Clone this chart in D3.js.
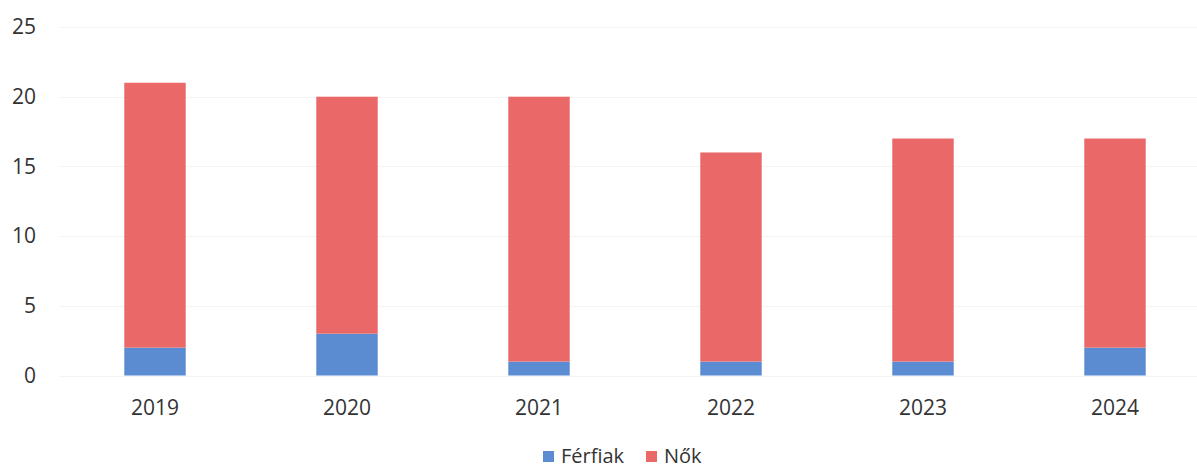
<!DOCTYPE html>
<html><head><meta charset="utf-8">
<script src="https://cdn.jsdelivr.net/npm/d3@7"></script>
<style>body{margin:0;background:#fff}svg{display:block}text{font-family:"Open Sans",sans-serif;fill:#333}</style>
</head><body>
<script>
const categories = ["2019","2020","2021","2022","2023","2024"];
const ferfiak = [2,3,1,1,1,2];
const nok = [19,17,19,15,16,15];
const seriesNames = ["Férfiak","Nők"];
const colors = ["#5b8bd1","#eb6868"];
const yTicks = [0,5,10,15,20,25];

const W=1197,H=470;
const svg=d3.select("body").append("svg").attr("width",W).attr("height",H);
const x=d3.scaleBand().domain(categories).range([59,1211]).paddingInner(0.68).paddingOuter(0.34);
const y=d3.scaleLinear().domain([0,25]).range([375.5,27]);

const g=svg.append("g");
g.selectAll("line.grid").data(yTicks).join("line").attr("x1",59).attr("x2",1197)
 .attr("y1",d=>Math.round(y(d))+0.5).attr("y2",d=>Math.round(y(d))+0.5).attr("stroke","#f3f3f3").attr("stroke-width",1);

const rows=categories.map((c,i)=>({cat:c,"Férfiak":ferfiak[i],"Nők":nok[i]}));
const stack=d3.stack().keys(seriesNames)(rows);
stack.forEach((s,k)=>{
  g.selectAll("rect.s"+k).data(s).join("rect")
   .attr("x",d=>x(d.data.cat)).attr("width",x.bandwidth())
   .attr("y",d=>y(d[1])).attr("height",d=>y(d[0])-y(d[1])).attr("fill",colors[k]);
});

g.selectAll("text.yl").data(yTicks).join("text").attr("x",36).attr("y",d=>y(d)).attr("dy","0.35em")
 .attr("text-anchor","end").style("font-size","21px").text(d=>d);
g.selectAll("text.xl").data(categories).join("text").attr("x",d=>x(d)+x.bandwidth()/2).attr("y",408).attr("dy","0.35em")
 .attr("text-anchor","middle").style("font-size","21px").text(d=>d);

const leg=svg.append("g");
const lx=[543,646];
seriesNames.forEach((n,i)=>{
  leg.append("rect").attr("x",lx[i]).attr("y",451).attr("width",11).attr("height",11).attr("fill",colors[i]);
  leg.append("text").attr("x",lx[i]+18).attr("y",456).attr("dy","0.35em").style("font-size","20px").text(n);
});
</script>
</body></html>
